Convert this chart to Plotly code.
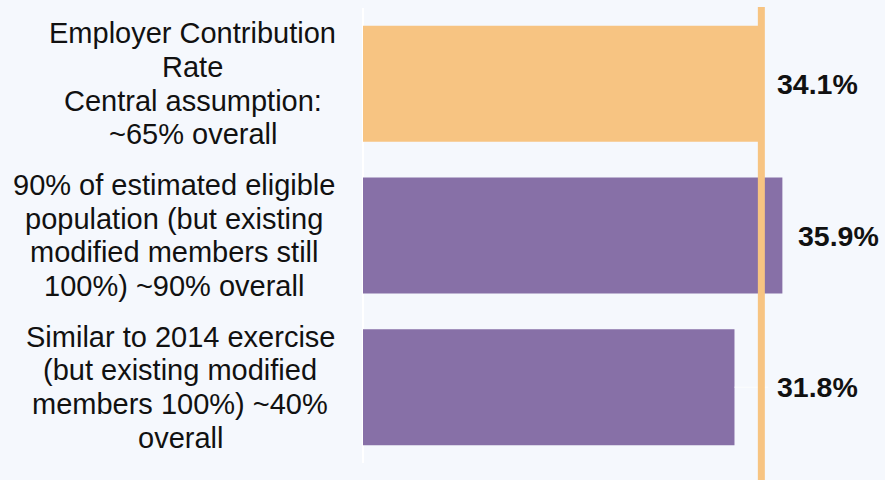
import plotly.graph_objects as go

# ---- data ----
categories = [
    "Employer Contribution<br>Rate<br>Central assumption:<br>~65% overall",
    "90% of estimated eligible<br>population (but existing<br>modified members still<br>100%) ~90% overall",
    "Similar to 2014 exercise<br>(but existing modified<br>members 100%) ~40%<br>overall",
]
values = [34.1, 35.9, 31.8]
value_labels = ["34.1%", "35.9%", "31.8%"]
central_value = 34.1

# ---- styles ----
ORANGE = "#F7C482"
PURPLE = "#8770A7"
BG = "#F5F8FD"
bar_colors = [ORANGE, PURPLE, PURPLE]
label_centers_px = [192.5, 174, 180]  # horizontal centre of each left label block
LINE_GAP = 33.7
L_MARGIN = 363

fig = go.Figure()
fig.add_trace(go.Bar(
    y=categories, x=values, orientation="h",
    marker=dict(color=bar_colors, line=dict(width=0)),
    width=0.765, hoverinfo="skip", showlegend=False,
))

annotations = []
# left category labels, one line per annotation to match line spacing
for cat, cx in zip(categories, label_centers_px):
    lines = cat.split("<br>")
    n = len(lines)
    for i, ln in enumerate(lines):
        annotations.append(dict(
            xref="paper", x=0, yref="y", y=cat,
            xanchor="center", yanchor="middle",
            xshift=cx - L_MARGIN, yshift=-(i - (n - 1) / 2) * LINE_GAP,
            text=ln, showarrow=False,
            font=dict(family="Liberation Sans, Arial, sans-serif", size=29, color="#111111"),
        ))

# value labels to the right of bar / central line
for cat, v, lab in zip(categories, values, value_labels):
    annotations.append(dict(
        xref="x", x=max(v, central_value), yref="y", y=cat,
        xanchor="left", yanchor="middle", xshift=14,
        text="<b>" + lab + "</b>", showarrow=False,
        font=dict(family="Liberation Sans, Arial, sans-serif", size=28.5, color="#111111"),
    ))

shapes = []
# faint leader line for bars shorter than the central line
for cat, v in zip(categories, values):
    if v < central_value:
        shapes.append(dict(
            type="line", xref="x", yref="y", x0=v, x1=central_value + 0.6,
            y0=cat, y1=cat, line=dict(color="white", width=1), opacity=0.8, layer="above",
        ))
# central assumption vertical line
shapes.append(dict(
    type="line", xref="x", yref="paper", x0=central_value, x1=central_value,
    y0=-0.06, y1=1.002, line=dict(color=ORANGE, width=7), layer="above",
))

fig.update_layout(
    width=885, height=480,
    margin=dict(l=L_MARGIN, r=8, t=8, b=17, autoexpand=False),
    paper_bgcolor=BG, plot_bgcolor=BG,
    xaxis=dict(range=[0, 44], showgrid=False, showticklabels=False, ticks="",
               zeroline=True, zerolinecolor="white", zerolinewidth=2, showline=False,
               fixedrange=True),
    yaxis=dict(categoryorder="array", categoryarray=categories, autorange="reversed",
               showticklabels=False, showgrid=False, zeroline=False, ticks="",
               fixedrange=True),
    annotations=annotations,
    shapes=shapes,
    bargap=0.2,
)

fig.write_html(
    "out.html",
    config={"displayModeBar": False},
    post_script="document.body.style.margin='0';document.body.style.background='%s';" % BG,
)
